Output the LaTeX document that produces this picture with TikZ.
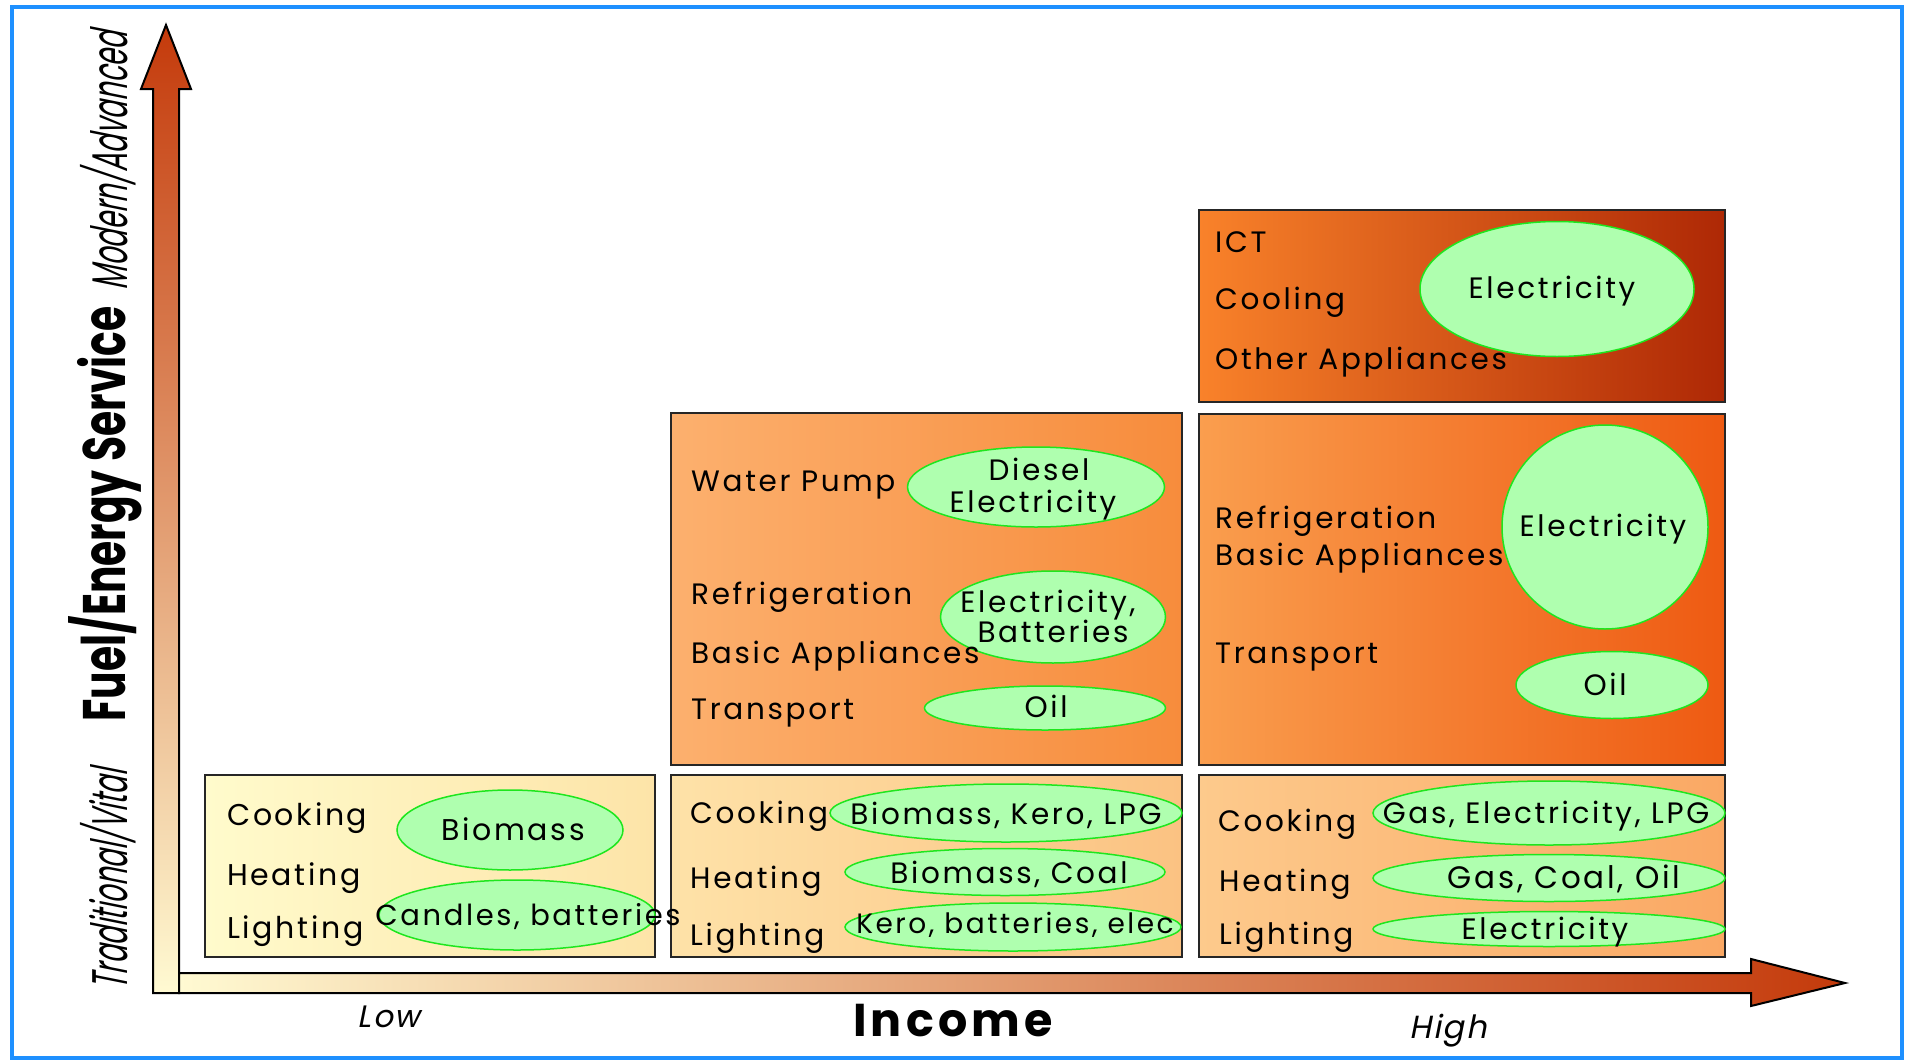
\documentclass[tikz,border=0pt]{standalone}
\usepackage{fontspec}
\usetikzlibrary{shapes.geometric}
\setmainfont{Poppins}[LetterSpace=9]
\newfontfamily\sidefont{Poppins}[FakeStretch=0.55,FakeSlant=0.2]
\newfontfamily\titlefont{Poppins}[FakeStretch=0.68]
\newfontfamily\endfont{Poppins}[FakeSlant=0.2,LetterSpace=6]

\definecolor{framecol}{RGB}{30,144,255}
\definecolor{fuelfill}{RGB}{175,255,175}
\definecolor{fuelline}{RGB}{30,230,30}
\definecolor{axisdark}{RGB}{196,58,11}
\definecolor{axislight}{RGB}{255,250,210}
\definecolor{lowA}{RGB}{255,251,204}
\definecolor{lowB}{RGB}{253,228,168}
\definecolor{midtA}{RGB}{254,226,168}
\definecolor{midtB}{RGB}{251,194,130}
\definecolor{hightA}{RGB}{253,202,140}
\definecolor{hightB}{RGB}{250,168,100}
\definecolor{midbA}{RGB}{252,176,110}
\definecolor{midbB}{RGB}{247,140,60}
\definecolor{highbA}{RGB}{250,158,78}
\definecolor{highbB}{RGB}{238,90,18}
\definecolor{modA}{RGB}{249,130,42}
\definecolor{modB}{RGB}{174,40,5}

\begin{document}
\begin{tikzpicture}[x=1pt,y=-1pt,
    cell/.style={draw=black!85,line width=2pt},
    svc/.style={anchor=base west,inner sep=0pt},
    fuel/.style={ellipse,draw=fuelline,fill=fuelfill,line width=1.5pt,inner sep=0pt},
    ftext/.style={anchor=base,inner sep=0pt},
    font=\fontsize{29.5}{34}\selectfont]
  \useasboundingbox (0,0) rectangle (1909,1060);
  \draw[framecol,line width=4pt] (12,7) rectangle (1902,1058);

  \shade[draw=black,line width=2pt,bottom color=axislight,top color=axisdark]
    (153,993) -- (153,89) -- (141,89) -- (166,25) -- (191,89) -- (179,89) -- (179,993) -- cycle;
  \shade[draw=black,line width=2pt,left color=axislight,right color=axisdark]
    (179,973) -- (1751,973) -- (1751,959) -- (1845,983) -- (1751,1006) -- (1751,993) -- (179,993) -- cycle;

  \draw[cell,left color=lowA,right color=lowB] (205,775) rectangle (655,957);
  \draw[cell,left color=midtA,right color=midtB] (671,775) rectangle (1182,957);
  \draw[cell,left color=hightA,right color=hightB] (1199,775) rectangle (1725,957);
  \draw[cell,left color=midbA,right color=midbB] (671,413) rectangle (1182,765);
  \draw[cell,left color=highbA,right color=highbB] (1199,414) rectangle (1725,765);
  \draw[cell,left color=modA,right color=modB] (1199,210) rectangle (1725,402);

  \node[fuel,minimum width=226,minimum height=80] (lowbio) at (510,830) {};
  \node[fuel,minimum width=276,minimum height=70] (lowcand) at (517,915) {};
  \node[fuel,minimum width=352,minimum height=58] (midkero) at (1006,813) {};
  \node[fuel,minimum width=320,minimum height=47] (midcoal) at (1005,872) {};
  \node[fuel,minimum width=336,minimum height=48] (midelec) at (1013,927) {};
  \node[fuel,minimum width=352,minimum height=64] (highgas) at (1549,813) {};
  \node[fuel,minimum width=352,minimum height=47] (highoil) at (1549,878) {};
  \node[fuel,minimum width=352,minimum height=35] (highelec) at (1549,929) {};
  \node[fuel,minimum width=257,minimum height=80] (diesel) at (1036,487) {};
  \node[fuel,minimum width=225,minimum height=92] (midbatt) at (1053,617) {};
  \node[fuel,minimum width=241,minimum height=44] (midoil) at (1045,708) {};
  \node[fuel,minimum width=206,minimum height=204] (bigelec) at (1605,527) {};
  \node[fuel,minimum width=192,minimum height=67] (bigoil) at (1612,685) {};
  \node[fuel,minimum width=274,minimum height=135] (modelec) at (1557,289) {};

  \begin{scope}[font=\fontsize{30}{35}\selectfont]
    \node[ftext] (lowbiotxt) at (513,840) {Biomass};
    \node[ftext,font=\fontsize{29}{34}\selectfont] (lowcandtxt) at (528,925) {Candles, batteries};
    \node[svc] (lowcook) at (227,825) {Cooking};
    \node[svc] (lowheat) at (227,885) {Heating};
    \node[svc] (lowlight) at (227,938) {Lighting};
  \end{scope}

  \node[ftext] (midkerotxt) at (1006,824) {Biomass, Kero, LPG};
  \node[ftext] (midcoaltxt) at (1009,883) {Biomass, Coal};
  \node[ftext,font=\fontsize{28}{32}\selectfont] (midelectxt) at (1015,933) {Kero, batteries, elec};
  \node[svc] (midcook) at (690,823) {Cooking};
  \node[svc] (midheat) at (690,888) {Heating};
  \node[svc] (midlight) at (690,945) {Lighting};

  \node[ftext] (highgastxt) at (1546,823) {Gas, Electricity, LPG};
  \node[ftext,font=\fontsize{31}{35}\selectfont] (highoiltxt) at (1564,888) {Gas, Coal, Oil};
  \node[ftext] (highelectxt) at (1545,939) {Electricity};
  \node[svc] (highcook) at (1218,831) {Cooking};
  \node[svc] (highheat) at (1219,891) {Heating};
  \node[svc] (highlight) at (1219,944) {Lighting};

  \node[ftext] (dieseltxt) at (1039,480) {Diesel};
  \node[ftext] (dieselelec) at (1033,512) {Electricity};
  \node[ftext] (battelec) at (1048,612) {Electricity,};
  \node[ftext] (batttxt) at (1053,642) {Batteries};
  \node[ftext] (midoiltxt) at (1046,717) {Oil};
  \node[svc] (pump) at (691,491) {Water Pump};
  \node[svc] (midfridge) at (691,604) {Refrigeration};
  \node[svc] (midappl) at (691,663) {Basic Appliances};
  \node[svc] (midtrans) at (691,719) {Transport};

  \node[ftext] (bigelectxt) at (1603,536) {Electricity};
  \node[ftext] (bigoiltxt) at (1605,695) {Oil};
  \node[svc] (highfridge) at (1215,528) {Refrigeration};
  \node[svc] (highappl) at (1215,565) {Basic Appliances};
  \node[svc] (hightrans) at (1215,663) {Transport};

  \node[ftext] (modelectxt) at (1552,298) {Electricity};
  \node[svc] (ict) at (1215,252) {ICT};
  \node[svc] (cool) at (1215,309) {Cooling};
  \node[svc] (other) at (1215,369) {Other Appliances};

  \node[anchor=base,inner sep=0pt,font=\endfont\fontsize{31}{35}\selectfont] (low) at (389,1027) {Low};
  \node[anchor=base,inner sep=0pt,font=\endfont\fontsize{32}{36}\selectfont] (high) at (1448,1038) {High};
  \node[anchor=base,inner sep=0pt,font=\bfseries\fontsize{46}{52}\selectfont] (income) at (953,1036) {Income};
  \node[anchor=base,inner sep=0pt,rotate=90,font=\titlefont\bfseries\fontsize{60}{66}\selectfont] (service) at (125,514) {Fuel/Energy Service};
  \node[anchor=base,inner sep=0pt,rotate=90,font=\sidefont\fontsize{50}{56}\selectfont] (modern) at (127,161) {Modern/Advanced};
  \node[anchor=base,inner sep=0pt,rotate=90,font=\sidefont\fontsize{50}{56}\selectfont] (trad) at (127,880) {Traditional/Vital};
\end{tikzpicture}
\end{document}
